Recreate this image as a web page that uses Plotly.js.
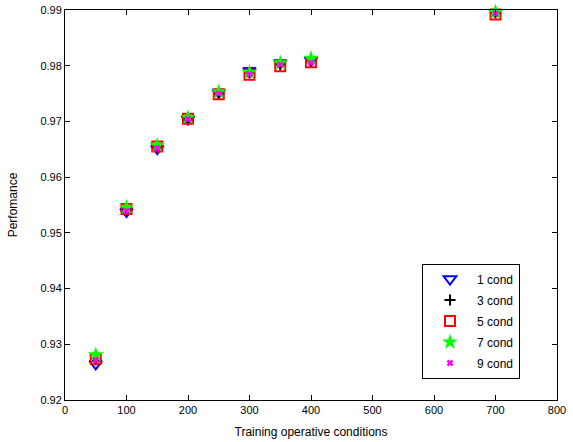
<!DOCTYPE html>
<html>
<head>
<meta charset="utf-8">
<script src="https://cdn.plot.ly/plotly-3.0.1.min.js"></script>
<style>html,body{margin:0;padding:0;background:#fff;}#chart{width:573px;height:442px;}</style>
</head>
<body>
<div id="chart"></div>
<script>
var xValues = [50, 100, 150, 200, 250, 300, 350, 400, 700];
var cond1 = [0.9265, 0.9538, 0.9651, 0.9704, 0.9752, 0.9791, 0.9805, 0.9810, 0.9902];
var cond3 = [0.9272, 0.9541, 0.9654, 0.9706, 0.9750, 0.9787, 0.9802, 0.9807, 0.9895];
var cond5 = [0.9274, 0.9543, 0.9655, 0.9705, 0.9749, 0.9784, 0.9799, 0.9806, 0.9892];
var cond7 = [0.9281, 0.9546, 0.9657, 0.9707, 0.9753, 0.9788, 0.9805, 0.9813, 0.9896];
var cond9 = [0.9272, 0.9539, 0.9652, 0.9704, 0.9750, 0.9785, 0.9802, 0.9805, 0.9893];
var names = ['1 cond', '3 cond', '5 cond', '7 cond', '9 cond'];
var xTicks = [0, 100, 200, 300, 400, 500, 600, 700, 800];
var yTicks = [0.92, 0.93, 0.94, 0.95, 0.96, 0.97, 0.98, 0.99];
var yTickLabels = ['0.92', '0.93', '0.94', '0.95', '0.96', '0.97', '0.98', '0.99'];

var styles = [
  {symbol: 'triangle-down-open', color: '#0000ff', size: 11, line: {color: '#0000ff', width: 2}},
  {symbol: 'cross-thin-open', color: '#000000', size: 8, line: {color: '#000000', width: 2}},
  {symbol: 'square-open', color: '#ff0000', size: 10, line: {color: '#ff0000', width: 2}},
  {symbol: 'star', color: '#00ff00', size: 12, line: {width: 0}},
  {symbol: 'x-thin-open', color: '#ff00ff', size: 5, line: {color: '#ff00ff', width: 2.5}}
];
var series = [cond1, cond3, cond5, cond7, cond9];
var traces = series.map(function (s, i) {
  return {
    x: xValues, y: s, name: names[i], type: 'scatter', mode: 'markers',
    marker: styles[i], legendgroup: 'g' + i, cliponaxis: false
  };
});

var fontFam = 'Liberation Sans, Arial, sans-serif';
var axisCommon = {
  showline: true, linecolor: '#000', linewidth: 1, mirror: 'ticks',
  ticks: 'inside', ticklen: 5, tickcolor: '#000', showgrid: false, zeroline: false,
  tickfont: {family: fontFam, size: 11, color: '#000'}
};
var layout = {
  width: 573, height: 442,
  margin: {l: 65, r: 16, t: 10, b: 42},
  paper_bgcolor: '#fff', plot_bgcolor: '#fff',
  showlegend: true,
  xaxis: Object.assign({}, axisCommon, {
    range: [0, 800], tickvals: xTicks,
    title: {text: 'Training operative conditions', standoff: 12,
      font: {family: fontFam, size: 12, color: '#000'}}
  }),
  yaxis: Object.assign({}, axisCommon, {
    range: [0.92, 0.99], tickvals: yTicks, ticktext: yTickLabels,
    title: {text: 'Perfomance', standoff: 20,
      font: {family: fontFam, size: 12, color: '#000'}}
  }),
  legend: {
    x: 0.7256, y: 0.35, xanchor: 'left', yanchor: 'top',
    bgcolor: '#fff', bordercolor: '#000', borderwidth: 1,
    traceorder: 'grouped', tracegroupgap: 2,
    font: {family: fontFam, size: 12, color: '#000'},
    itemsizing: 'trace', itemwidth: 44
  }
};
Plotly.newPlot('chart', traces, layout, {displayModeBar: false, staticPlot: true});
</script>
</body>
</html>
